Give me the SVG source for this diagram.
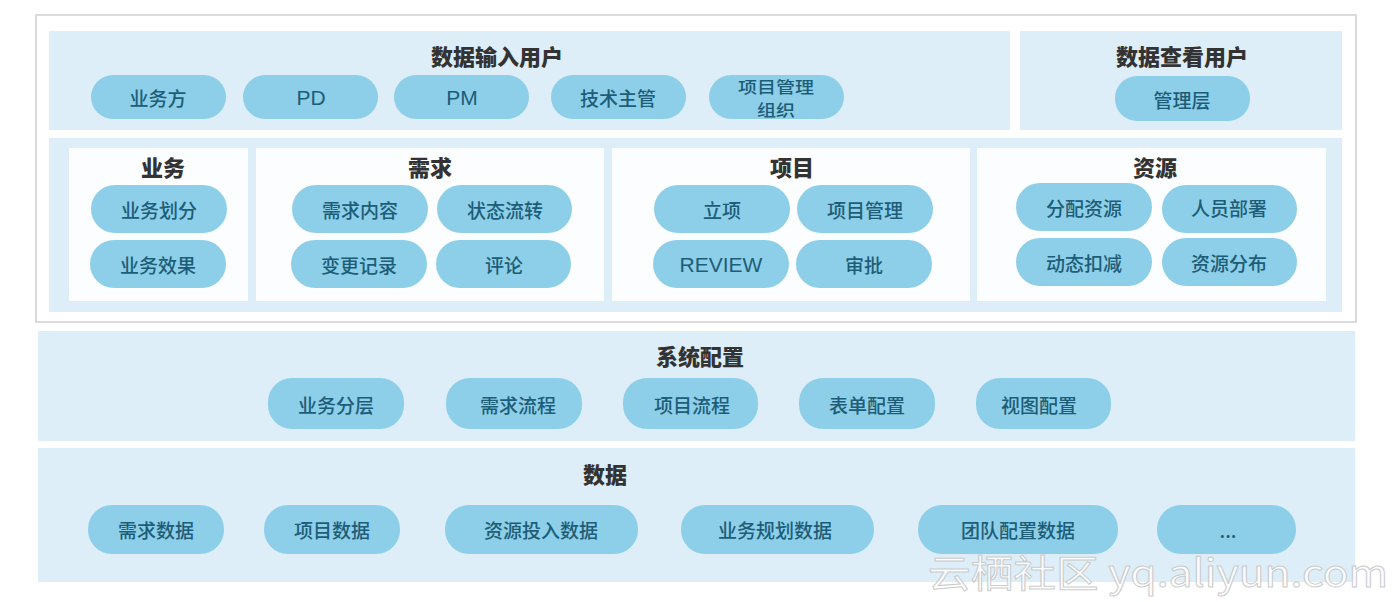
<svg xmlns="http://www.w3.org/2000/svg" width="1400" height="602" viewBox="0 0 1400 602">
<defs>
<style>
.bg{fill:#ffffff}
.frame{fill:#ffffff;stroke:#cfcfcf;stroke-width:1.5}
.panel{fill:#ddeef8}
.box{fill:#fbfdfe}
.pill{fill:#8dcfe8}
.pt{font-family:"Noto Sans CJK SC","Liberation Sans",sans-serif;font-size:19px;font-weight:500;fill:#1d5d78;text-anchor:middle;dominant-baseline:central}
.pts{font-family:"Noto Sans CJK SC","Liberation Sans",sans-serif;font-size:16px;font-weight:500;fill:#1d5d78;text-anchor:middle;dominant-baseline:central}
.ptl{font-family:"Liberation Sans","Noto Sans CJK SC",sans-serif;font-size:21px;fill:#1d5d78;text-anchor:middle;dominant-baseline:central}
.title{font-family:"Noto Sans CJK SC","Liberation Sans",sans-serif;font-size:22px;font-weight:900;fill:#333333;text-anchor:middle;dominant-baseline:central}
.wm{font-family:"Noto Sans CJK SC","Liberation Sans",sans-serif;font-size:38px;fill:#ffffff;stroke:#c8c8c8;stroke-width:1;opacity:0.9}
</style>
</defs>
<rect class="bg" x="0" y="0" width="1400" height="602"/>
<rect class="frame" x="36" y="15" width="1320" height="307"/>

<g id="input-users">
<rect class="panel" x="49" y="31" width="961" height="99"/>
<text class="title" x="497" y="55">数据输入用户</text>
<g id="n-yewufang"><rect class="pill" x="91" y="75" width="135" height="44" rx="22"/><text class="pt" x="158" y="97">业务方</text></g>
<g id="n-pd"><rect class="pill" x="243" y="75" width="135" height="44" rx="22"/><text class="ptl" x="311" y="97">PD</text></g>
<g id="n-pm"><rect class="pill" x="394" y="75" width="135" height="44" rx="22"/><text class="ptl" x="462" y="97">PM</text></g>
<g id="n-jishu"><rect class="pill" x="551" y="75" width="135" height="44" rx="22"/><text class="pt" x="618" y="97">技术主管</text></g>
<g id="n-xmzz"><rect class="pill" x="709" y="75" width="135" height="44" rx="22"/><text class="pts" x="776" y="86" textLength="76" lengthAdjust="spacingAndGlyphs">项目管理</text><text class="pts" x="776" y="109" textLength="38" lengthAdjust="spacingAndGlyphs">组织</text></g>
</g>

<g id="view-users">
<rect class="panel" x="1020" y="31" width="322" height="99"/>
<text class="title" x="1182" y="55">数据查看用户</text>
<g id="n-guanli"><rect class="pill" x="1115" y="76" width="135" height="45" rx="22"/><text class="pt" x="1182" y="99">管理层</text></g>
</g>

<rect class="panel" x="49" y="138" width="1293" height="174"/>

<g id="yewu">
<rect class="box" x="69" y="148" width="179" height="153"/>
<text class="title" x="163" y="166">业务</text>
<g id="n-ywhf"><rect class="pill" x="91" y="185" width="136" height="48" rx="24"/><text class="pt" x="159" y="209">业务划分</text></g>
<g id="n-ywxg"><rect class="pill" x="90" y="240" width="136" height="48" rx="24"/><text class="pt" x="158" y="264">业务效果</text></g>
</g>

<g id="xuqiu">
<rect class="box" x="256" y="148" width="348" height="153"/>
<text class="title" x="430" y="166">需求</text>
<g id="n-xqnr"><rect class="pill" x="292" y="185" width="136" height="48" rx="24"/><text class="pt" x="360" y="209">需求内容</text></g>
<g id="n-ztlz"><rect class="pill" x="437" y="185" width="135" height="48" rx="24"/><text class="pt" x="505" y="209">状态流转</text></g>
<g id="n-bgjl"><rect class="pill" x="291" y="240" width="136" height="48" rx="24"/><text class="pt" x="359" y="264">变更记录</text></g>
<g id="n-pl"><rect class="pill" x="436" y="240" width="135" height="48" rx="24"/><text class="pt" x="504" y="264">评论</text></g>
</g>

<g id="xiangmu">
<rect class="box" x="612" y="148" width="358" height="153"/>
<text class="title" x="792" y="166">项目</text>
<g id="n-lx"><rect class="pill" x="654" y="185" width="136" height="48" rx="24"/><text class="pt" x="722" y="209">立项</text></g>
<g id="n-xmgl"><rect class="pill" x="797" y="185" width="136" height="48" rx="24"/><text class="pt" x="865" y="209">项目管理</text></g>
<g id="n-review"><rect class="pill" x="653" y="240" width="136" height="48" rx="24"/><text class="ptl" x="721" y="264">REVIEW</text></g>
<g id="n-sp"><rect class="pill" x="796" y="240" width="136" height="48" rx="24"/><text class="pt" x="864" y="264">审批</text></g>
</g>

<g id="ziyuan">
<rect class="box" x="977" y="148" width="349" height="153"/>
<text class="title" x="1155" y="166">资源</text>
<g id="n-fpzy"><rect class="pill" x="1016" y="183" width="136" height="48" rx="24"/><text class="pt" x="1084" y="207">分配资源</text></g>
<g id="n-rybs"><rect class="pill" x="1162" y="185" width="135" height="48" rx="24"/><text class="pt" x="1229" y="207">人员部署</text></g>
<g id="n-dtkj"><rect class="pill" x="1016" y="238" width="136" height="48" rx="24"/><text class="pt" x="1084" y="262">动态扣减</text></g>
<g id="n-zyfb"><rect class="pill" x="1162" y="238" width="135" height="48" rx="24"/><text class="pt" x="1229" y="262">资源分布</text></g>
</g>

<g id="xitongpeizhi">
<rect class="panel" x="38" y="331" width="1317" height="110"/>
<text class="title" x="700" y="355">系统配置</text>
<g id="n-ywfc"><rect class="pill" x="268" y="378" width="136" height="51" rx="24"/><text class="pt" x="336" y="404">业务分层</text></g>
<g id="n-xqlc"><rect class="pill" x="446" y="378" width="136" height="51" rx="24"/><text class="pt" x="518" y="404">需求流程</text></g>
<g id="n-xmlc"><rect class="pill" x="623" y="378" width="135" height="51" rx="24"/><text class="pt" x="692" y="404">项目流程</text></g>
<g id="n-bdpz"><rect class="pill" x="799" y="378" width="136" height="51" rx="24"/><text class="pt" x="867" y="404">表单配置</text></g>
<g id="n-stpz"><rect class="pill" x="976" y="378" width="135" height="51" rx="24"/><text class="pt" x="1039" y="404">视图配置</text></g>
</g>

<g id="shuju">
<rect class="panel" x="38" y="448" width="1317" height="134"/>
<text class="title" x="605" y="473">数据</text>
<g id="n-xqsj"><rect class="pill" x="88" y="505" width="136" height="49" rx="24"/><text class="pt" x="156" y="529">需求数据</text></g>
<g id="n-xmsj"><rect class="pill" x="264" y="505" width="136" height="49" rx="24"/><text class="pt" x="332" y="529">项目数据</text></g>
<g id="n-zytrsj"><rect class="pill" x="445" y="505" width="193" height="49" rx="24"/><text class="pt" x="541" y="529">资源投入数据</text></g>
<g id="n-ywghsj"><rect class="pill" x="681" y="505" width="193" height="49" rx="24"/><text class="pt" x="775" y="529">业务规划数据</text></g>
<g id="n-tdpzsj"><rect class="pill" x="918" y="505" width="200" height="49" rx="24"/><text class="pt" x="1018" y="529">团队配置数据</text></g>
<g id="n-more"><rect class="pill" x="1157" y="505" width="139" height="49" rx="24"/><text class="pt" x="1228" y="529">...</text></g>
</g>

<g id="connectors"></g>

<text class="wm" x="928" y="587" textLength="460" lengthAdjust="spacingAndGlyphs">云栖社区 yq.aliyun.com</text>
</svg>
